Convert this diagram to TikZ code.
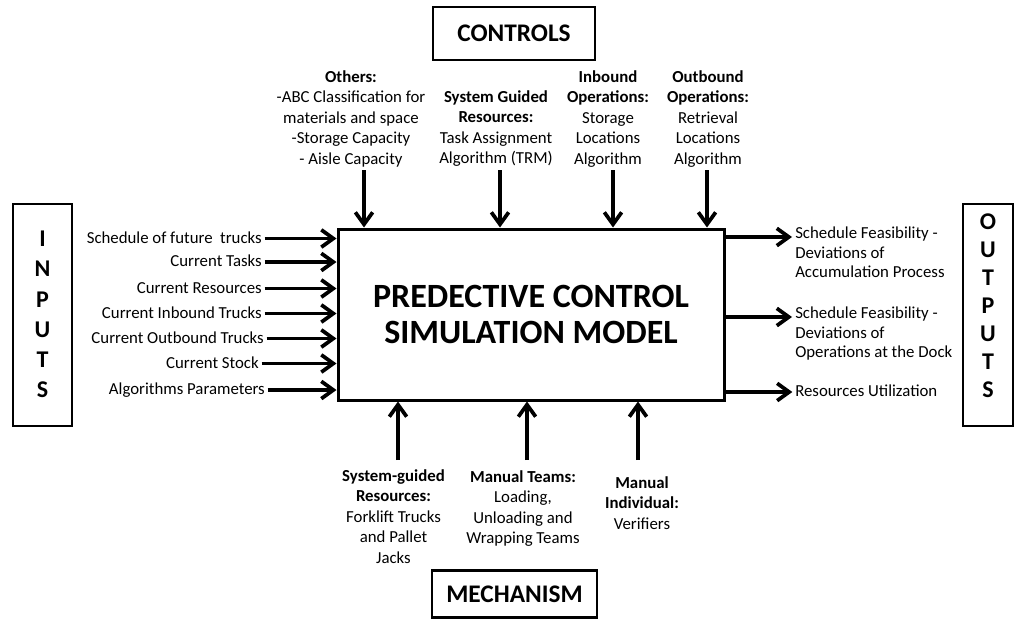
\documentclass[tikz,border=0pt]{standalone}
\usepackage{fontspec}
\setmainfont{Carlito}
\usetikzlibrary{arrows.meta}
\newcommand\fsN{\fontsize{12.6}{15.4}\selectfont}
\newcommand\fsO{\fontsize{12.6}{14.6}\selectfont}
\newcommand\fsH{\fontsize{19}{22}\selectfont\bfseries}
\begin{document}
\begin{tikzpicture}[x=0.75pt,y=-0.75pt,
  box/.style={draw, line width=2pt, inner sep=0pt},
  arr/.style={line width=2.8pt, -{Straight Barb[length=9pt,width=13pt]}},
  lbl/.style={inner sep=0pt, font=\fsN, text height=6.8pt, text depth=0pt},
  grp/.style={inner sep=0pt, font=\fsN, align=center, anchor=north, execute at begin node=\strut},
  grpl/.style={inner sep=0pt, font=\fsO, align=left, anchor=north west, execute at begin node=\strut},
  letters/.style={inner sep=0pt, align=center, font=\fontsize{18}{#1}\selectfont\bfseries}
]
\useasboundingbox (0,0) rectangle (1015,621);

% main block
\node[box, line width=2.25pt, minimum width=289.5pt, minimum height=128.25pt,
      align=center, font=\fontsize{25.5}{26.5}\selectfont\bfseries] (main) at (531,314.5)
  {PREDECTIVE CONTROL\\SIMULATION MODEL};

% side boxes
\node[box, minimum width=44.25pt, minimum height=166.5pt] (inputs) at (42.5,315) {};
\node[letters=22.65pt] (intxt) at (42.5,314.5) {I\\N\\P\\U\\T\\S};
\node[box, minimum width=37.5pt, minimum height=166.5pt] (outputs) at (988,315) {};
\node[letters=21pt] (outtxt) at (988,305.5) {O\\U\\T\\P\\U\\T\\S};
\node[box, font=\fsH, minimum width=121.5pt, minimum height=39.75pt] (controls) at (514,33.5) {CONTROLS};
\node[box, font=\fsH, minimum width=123.75pt, minimum height=35.25pt] (mechanism) at (514.5,594) {MECHANISM};

% inputs
\node[lbl, anchor=east] (in1) at (262,238.5) {Schedule of future\ \ trucks};
\node[lbl, anchor=east] (in2) at (262,262) {Current Tasks};
\node[lbl, anchor=east] (in3) at (262,288.5) {Current Resources};
\node[lbl, anchor=east] (in4) at (262,313.5) {Current Inbound Trucks};
\node[lbl, anchor=east] (in5) at (264,338.5) {Current Outbound Trucks};
\node[lbl, anchor=east] (in6) at (259,363.5) {Current Stock};
\node[lbl, anchor=east] (in7) at (265,390) {Algorithms Parameters};
\foreach \n in {in1,in2,in3,in4,in5,in6,in7}
  \draw[arr] ([xshift=2pt]\n.east) -- (\n -| main.west);

% controls
\node[grp] (t1) at (351,70.1) {\textbf{Others:}\\-ABC Classification for\\materials and space\\-Storage Capacity\\- Aisle Capacity};
\node[grp] (t2) at (496,90.1) {\textbf{System Guided}\\\textbf{Resources:}\\Task Assignment\\Algorithm (TRM)};
\node[grp] (t3) at (608,70.1) {\textbf{Inbound}\\\textbf{Operations:}\\Storage\\Locations\\Algorithm};
\node[grp] (t4) at (708,70.1) {\textbf{Outbound}\\\textbf{Operations:}\\Retrieval\\Locations\\Algorithm};
\coordinate (c1) at (364,170);
\coordinate (c2) at (500,170);
\coordinate (c3) at (613,170);
\coordinate (c4) at (707,170);
\foreach \c in {c1,c2,c3,c4}
  \draw[arr] (\c) -- (\c |- main.north);

% mechanisms
\node[grp] (b1) at (393.5,469.1) {\textbf{System-guided}\\\textbf{Resources:}\\Forklift Trucks\\and Pallet\\Jacks};
\node[grp] (b2) at (523,470.1) {\textbf{Manual Teams:}\\Loading,\\Unloading and\\Wrapping Teams};
\node[grp] (b3) at (642,476.1) {\textbf{Manual}\\\textbf{Individual:}\\Verifiers};
\coordinate (d1) at (398,460);
\coordinate (d2) at (527,460);
\coordinate (d3) at (638,460);
\foreach \d in {d1,d2,d3}
  \draw[arr] (\d) -- (\d |- main.south);

% outputs
\node[grpl] (o1) at (795,226.9) {Schedule Feasibility -\\Deviations of\\Accumulation Process};
\node[grpl] (o2) at (795,306.9) {Schedule Feasibility -\\Deviations of\\Operations at the Dock};
\node[lbl, anchor=west] (o3) at (795,392) {Resources Utilization};
\coordinate (e1) at (792,237);
\coordinate (e2) at (792,317);
\draw[arr] (e1 -| main.east) -- (e1);
\draw[arr] (e2 -| main.east) -- (e2);
\draw[arr] (o3 -| main.east) -- ([xshift=-2pt]o3.west);
\end{tikzpicture}
\end{document}
